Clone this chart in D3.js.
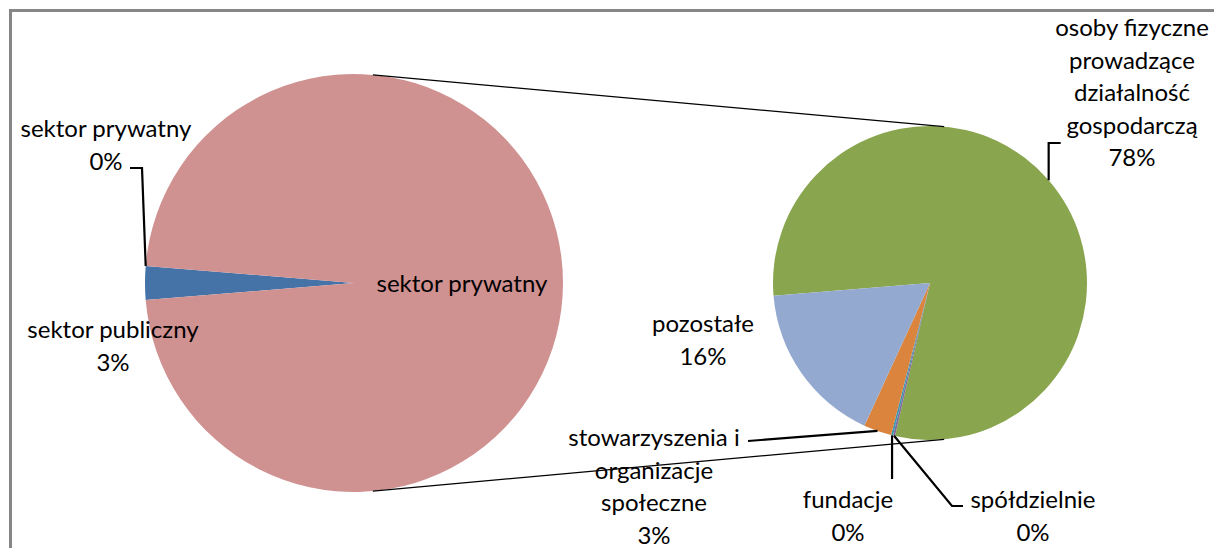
<!DOCTYPE html>
<html>
<head>
<meta charset="utf-8">
<script src="https://cdn.jsdelivr.net/npm/d3@7"></script>
<style>
  html, body { margin: 0; padding: 0; background: #fff; }
  svg text { font-family: Lato, "Liberation Sans", sans-serif; fill: #000; }
</style>
</head>
<body>
<div id="chart"></div>
<script>
// primary pie (left): the two sectors that stay on their own
var primaryCategories = ["sektor publiczny", "sektor prywatny"];
var primaryValues = [2.6, 0.0];
// secondary pie (right): break-down of the "other" slice
var secondaryCategories = ["osoby fizyczne prowadzące działalność gospodarczą", "spółdzielnie", "fundacje", "stowarzyszenia i organizacje społeczne", "pozostałe"];
var secondaryValues = [77.8, 0.2, 0.2, 2.8, 16.4];
var otherLabel = "sektor prywatny";

var width = 1214, height = 548;
var fontSize = 24, lineH = 32.5;

var primaryColors = ["#4572A7", "#AA4643"];
var otherColor = "#D09191";
var secondaryColors = ["#89A54E", "#80699B", "#3D96AE", "#DB843D", "#93A9CF"];

var c1 = {x: 354, y: 283, r: 209};
var c2 = {x: 930, y: 283, r: 157};

var svg = d3.select("#chart").append("svg")
  .attr("width", width)
  .attr("height", height);

// frame (only left and top edges visible in the picture)
svg.append("rect")
  .attr("x", 10.5).attr("y", 10.5)
  .attr("width", 1240).attr("height", 600)
  .attr("fill", "none")
  .attr("stroke", "#868686")
  .attr("stroke-width", 3);

var secondaryTotal = d3.sum(secondaryValues);
var total = d3.sum(primaryValues) + secondaryTotal;
var pct = function(v) { return Math.round(v / total * 100) + "%"; };

// primary pie: the "other" slice sits centred on the right
var primaryData = primaryValues.map(function(v, i) { return {name: primaryCategories[i], value: v, color: primaryColors[i]}; });
primaryData.push({name: otherLabel, value: secondaryTotal, color: otherColor, other: true});

var restSweep = 2 * Math.PI * (1 - secondaryTotal / total);
var start = -Math.PI / 2 - restSweep / 2;

var pie1 = d3.pie().sort(null).value(function(d) { return d.value; })
  .startAngle(start).endAngle(start + 2 * Math.PI);
var pie2 = d3.pie().sort(null)
  .startAngle(start).endAngle(start + 2 * Math.PI);

var arc1 = d3.arc().innerRadius(0).outerRadius(c1.r);
var arc2 = d3.arc().innerRadius(0).outerRadius(c2.r);

var arcs1 = pie1(primaryData);
var arcs2 = pie2(secondaryValues);

svg.append("g")
  .attr("transform", "translate(" + c1.x + "," + c1.y + ")")
  .selectAll("path")
  .data(arcs1)
  .enter().append("path")
  .attr("d", arc1)
  .attr("fill", function(d) { return d.data.color; });

svg.append("g")
  .attr("transform", "translate(" + c2.x + "," + c2.y + ")")
  .selectAll("path")
  .data(arcs2)
  .enter().append("path")
  .attr("d", arc2)
  .attr("fill", function(d, i) { return secondaryColors[i]; });

// external tangent lines joining the two pies
var dist = c2.x - c1.x;
var s = (c1.r - c2.r) / dist;
var phi = Math.asin(s);
[-1, 1].forEach(function(side) {
  var x1 = c1.x + c1.r * Math.sin(phi), y1 = c1.y + side * c1.r * Math.cos(phi);
  var x2 = c2.x + c2.r * Math.sin(phi), y2 = c2.y + side * c2.r * Math.cos(phi);
  svg.append("line")
    .attr("x1", x1).attr("y1", y1).attr("x2", x2).attr("y2", y2)
    .attr("stroke", "#000").attr("stroke-width", 1.3);
});

function edgePoint(c, a) {
  return [c.x + c.r * Math.sin(a), c.y - c.r * Math.cos(a)];
}
function mid(d) { return (d.startAngle + d.endAngle) / 2; }

function leader(points) {
  svg.append("path")
    .attr("d", d3.line()(points))
    .attr("fill", "none")
    .attr("stroke", "#000")
    .attr("stroke-width", 2.2);
}

function label(lines, cx, y0) {
  var t = svg.append("text")
    .attr("text-anchor", "middle")
    .attr("font-size", fontSize);
  lines.forEach(function(l, i) {
    t.append("tspan").attr("x", cx).attr("y", y0 + i * lineH).text(l);
  });
}

// primary labels
var pPub = arcs1[0], pPriv = arcs1[1];
label([pPub.data.name, pct(pPub.data.value)], 113, 338);
var pp = edgePoint(c1, mid(pPriv));
leader([pp, [142, 168], [130, 168]]);
label([pPriv.data.name, pct(pPriv.data.value)], 106, 137);
label([otherLabel], 462, 292);

// secondary labels
var a0 = arcs2[0], a1 = arcs2[1], a2 = arcs2[2], a3 = arcs2[3], a4 = arcs2[4];

var p0 = edgePoint(c2, mid(a0));
leader([p0, [p0[0], 143], [p0[0] + 12, 143]]);
label(["osoby fizyczne", "prowadzące", "działalność", "gospodarczą", pct(secondaryValues[0])], 1132, 36);

var p1 = edgePoint(c2, mid(a1));
leader([p1, [952, 506], [963, 506]]);
label([secondaryCategories[1], pct(secondaryValues[1])], 1033, 508);

var p2 = edgePoint(c2, mid(a2));
leader([p2, [p2[0], 479]]);
label([secondaryCategories[2], pct(secondaryValues[2])], 848, 508);

var p3 = edgePoint(c2, mid(a3));
leader([p3, [748, 441]]);
label(["stowarzyszenia i", "organizacje", "społeczne", pct(secondaryValues[3])], 654, 446);

label([secondaryCategories[4], pct(secondaryValues[4])], 703, 332);
</script>
</body>
</html>
